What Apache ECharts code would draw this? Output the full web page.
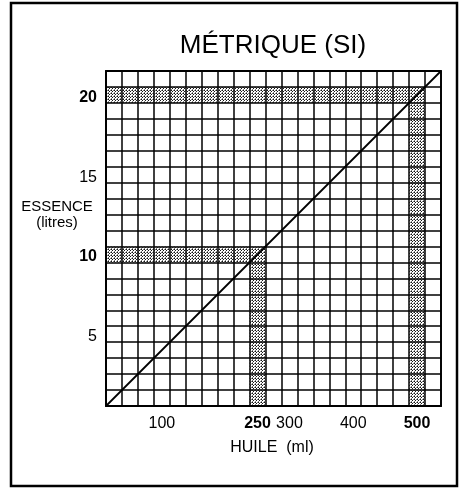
<!DOCTYPE html>
<html>
<head>
<meta charset="utf-8">
<script src="https://cdn.jsdelivr.net/npm/echarts@6/dist/echarts.min.js"></script>
<style>
  html, body { margin: 0; padding: 0; background: #fff; }
  #main { width: 463px; height: 488px; }
</style>
</head>
<body>
<div id="main"></div>
<script>
// axes: huile (ml) en x, essence (litres) en y - une case = 25 ml / 1 litre
var huileMin = 12.5, huileMax = 537.5, huilePas = 25;
var essenceMin = 0.5, essenceMax = 21.5, essencePas = 1;
var huileLabels = [100, 250, 300, 400, 500];
var essenceLabels = [5, 10, 15, 20];
var labelsGras = [250, 500, 10, 20];

// droite du rapport 25:1
var ligneHuile = [12.5, 537.5];
var ligneEssence = [0.5, 21.5];

// bandes grisées : couples (huile, essence)
var bandeHuile = [250, 500];
var bandeEssence = [10, 20];

var myChart = echarts.init(document.getElementById('main'));

// petite trame pointillée pour les bandes
var trame = document.createElement('canvas');
trame.width = 3; trame.height = 3;
var tc = trame.getContext('2d');
tc.fillStyle = 'rgba(20,20,20,1)';
tc.fillRect(0, 0, 1, 1);
tc.fillRect(1, 1, 1, 1);
tc.fillStyle = 'rgba(20,20,20,0.55)';
tc.fillRect(2, 0, 1, 1);
tc.fillRect(0, 2, 1, 1);

var zones = [];
for (var i = 0; i < bandeHuile.length; i++) {
  var h = bandeHuile[i], e = bandeEssence[i];
  // ligne horizontale
  zones.push([{ coord: [huileMin, e - essencePas / 2] }, { coord: [h + huilePas / 2, e + essencePas / 2] }]);
  // colonne verticale
  zones.push([{ coord: [h - huilePas / 2, essenceMin] }, { coord: [h + huilePas / 2, e - essencePas / 2] }]);
}

var ligneData = ligneHuile.map(function (v, k) { return [v, ligneEssence[k]]; });

function fmt(v) {
  return labelsGras.indexOf(Number(v)) >= 0 ? '{b|' + v + '}' : '{n|' + v + '}';
}
var rich = {
  b: { fontWeight: 'bold', fontSize: 16, color: '#000', fontFamily: 'Liberation Sans' },
  n: { fontSize: 16, color: '#000', fontFamily: 'Liberation Sans' }
};

var option = {
  animation: false,
  backgroundColor: '#fff',
  textStyle: { fontFamily: 'Liberation Sans' },
  grid: { left: 106, top: 71, width: 335, height: 335 },
  xAxis: {
    type: 'value',
    min: huileMin, max: huileMax, interval: huilePas,
    axisLine: { show: true, lineStyle: { color: '#000', width: 1.5 } },
    axisTick: { show: false },
    splitLine: { show: true, lineStyle: { color: '#000', width: 1.5 } },
    axisLabel: {
      customValues: huileLabels,
      margin: 10,
      formatter: fmt,
      rich: rich
    }
  },
  yAxis: {
    type: 'value',
    min: essenceMin, max: essenceMax, interval: essencePas,
    axisLine: { show: true, lineStyle: { color: '#000', width: 1.5 } },
    axisTick: { show: false },
    splitLine: { show: true, lineStyle: { color: '#000', width: 1.5 } },
    axisLabel: {
      customValues: essenceLabels,
      margin: 9,
      padding: [5, 0, 0, 0],
      formatter: fmt,
      rich: rich
    }
  },
  series: [
    {
      type: 'line',
      data: ligneData,
      symbol: 'none',
      lineStyle: { color: '#000', width: 1.8 },
      markArea: {
        silent: true,
        itemStyle: { color: { image: trame, repeat: 'repeat' } },
        data: zones
      },
      z: 3
    }
  ],
  graphic: [
    {
      type: 'rect', silent: true,
      shape: { x: 11, y: 3, width: 446, height: 483 },
      style: { fill: null, stroke: '#000', lineWidth: 2.5 }
    },
    {
      type: 'rect', silent: true,
      shape: { x: 106, y: 71, width: 335, height: 335 },
      style: { fill: null, stroke: '#000', lineWidth: 1.8 }, z: 10
    },
    {
      type: 'text', x: 273, y: 46,
      style: { text: 'MÉTRIQUE (SI)', font: '26px "Liberation Sans"', fill: '#000', textAlign: 'center', textVerticalAlign: 'middle' }
    },
    {
      type: 'text', x: 272, y: 448,
      style: { text: 'HUILE  (ml)', font: '16px "Liberation Sans"', fill: '#000', textAlign: 'center', textVerticalAlign: 'middle' }
    },
    {
      type: 'text', x: 57, y: 207,
      style: { text: 'ESSENCE', font: '15px "Liberation Sans"', fill: '#000', textAlign: 'center', textVerticalAlign: 'middle' }
    },
    {
      type: 'text', x: 57, y: 223,
      style: { text: '(litres)', font: '15px "Liberation Sans"', fill: '#000', textAlign: 'center', textVerticalAlign: 'middle' }
    }
  ]
};

myChart.setOption(option);
</script>
</body>
</html>
